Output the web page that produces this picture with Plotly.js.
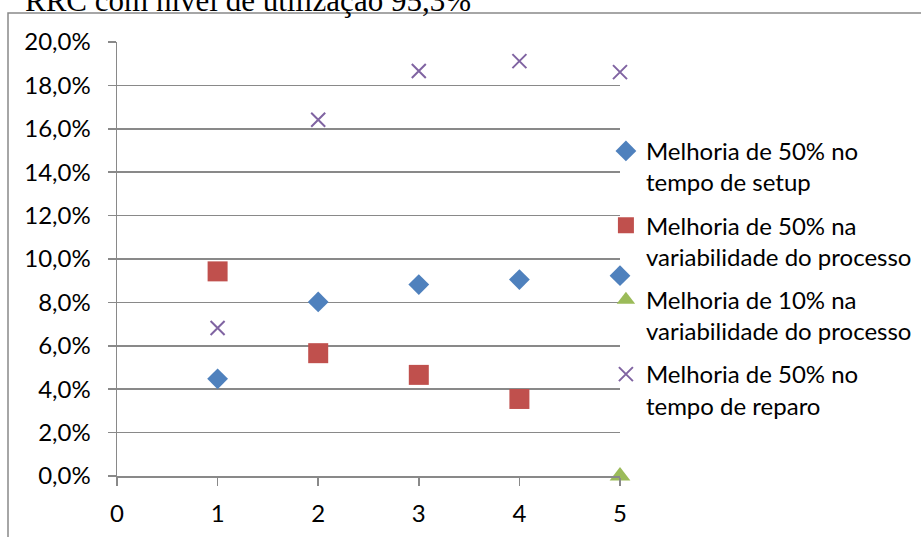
<!DOCTYPE html>
<html>
<head>
<meta charset="utf-8">
<script src="https://cdn.plot.ly/plotly-3.0.1.min.js"></script>
<style>
  html, body { margin: 0; padding: 0; background: #ffffff; }
  #chart { width: 921px; height: 537px; }
</style>
</head>
<body>
<div id="chart"></div>
<script>
// Scenario index on the x axis
const scenarios = [1, 2, 3, 4, 5];

// Gain for each improvement scenario (fractions, shown as %)
const setupGain     = [0.0448, 0.0802, 0.0882, 0.0905, 0.0923];
const variab50Gain  = [0.0943, 0.0566, 0.0466, 0.0355];
const variab10X     = [5];
const variab10Gain  = [0.0];
const repairGain    = [0.0682, 0.1642, 0.1866, 0.1912, 0.1861];

// Series labels
const seriesNames = [
  'Melhoria de 50% no<br>tempo de setup',
  'Melhoria de 50% na<br>variabilidade do processo',
  'Melhoria de 10% na<br>variabilidade do processo',
  'Melhoria de 50% no<br>tempo de reparo'
];

const chartTitle = 'RRC com nível de utilização 95,3%';

const gridGray = '#898989';
const textFont = { family: 'Lato, "Open Sans", sans-serif', size: 24, color: '#000000' };

const traces = [
  {
    x: scenarios, y: setupGain, name: seriesNames[0], legendgroup: 'g1',
    type: 'scatter', mode: 'markers', cliponaxis: false,
    marker: { symbol: 'diamond', size: 16, color: '#4F81BD' }
  },
  {
    x: scenarios.slice(0, variab50Gain.length), y: variab50Gain, name: seriesNames[1], legendgroup: 'g2',
    type: 'scatter', mode: 'markers', cliponaxis: false,
    marker: { symbol: 'square', size: 20, color: '#C0504D' }
  },
  {
    x: variab10X, y: variab10Gain, name: seriesNames[2], legendgroup: 'g3',
    type: 'scatter', mode: 'markers', cliponaxis: false,
    marker: { symbol: 'triangle-up', size: 18, color: '#9BBB59' }
  },
  {
    x: scenarios, y: repairGain, name: seriesNames[3], legendgroup: 'g4',
    type: 'scatter', mode: 'markers', cliponaxis: false,
    marker: { symbol: 'x-thin-open', size: 14, color: '#8064A2',
              line: { color: '#8064A2', width: 2 } }
  }
];

const layout = {
  width: 921, height: 537,
  margin: { l: 117, r: 301, t: 42, b: 61, pad: 0, autoexpand: false },
  paper_bgcolor: '#ffffff', plot_bgcolor: '#ffffff',
  separators: ',.',
  font: textFont,
  showlegend: true,
  title: {
    text: chartTitle,
    font: { family: '"Liberation Serif", "Times New Roman", serif', size: 31, color: '#000000' },
    x: 25 / 921, xref: 'container', xanchor: 'left',
    y: 1.0, yref: 'container', yanchor: 'middle'
  },
  legend: {
    x: 0.972, xanchor: 'left',
    y: 0.80, yanchor: 'top',
    valign: 'top',
    traceorder: 'grouped',
    tracegroupgap: 9,
    font: textFont,
    bgcolor: 'rgba(0,0,0,0)',
    itemwidth: 30
  },
  xaxis: {
    range: [0, 5], dtick: 1, tick0: 0,
    showgrid: false, zeroline: false,
    showline: true, linecolor: gridGray, linewidth: 1.5,
    ticks: 'outside', ticklen: 8, tickcolor: gridGray, tickwidth: 1.5,
    ticklabelstandoff: 8,
    tickfont: textFont, fixedrange: true
  },
  yaxis: {
    range: [0, 0.2], dtick: 0.02, tick0: 0,
    tickformat: '.1%',
    showgrid: true, gridcolor: gridGray, gridwidth: 1.5,
    zeroline: false,
    showline: true, linecolor: gridGray, linewidth: 1.5,
    ticks: 'outside', ticklen: 8, tickcolor: gridGray, tickwidth: 1.5,
    ticklabelstandoff: 12,
    tickfont: textFont, fixedrange: true
  },
  shapes: [
    {
      // outer chart frame (left and top edges visible)
      type: 'rect', xref: 'paper', yref: 'paper',
      x0: (8 - 117) / 503, x1: 1.8,
      y0: -0.3, y1: (476 - 13) / 434,
      line: { color: gridGray, width: 1.5 },
      fillcolor: 'rgba(0,0,0,0)', layer: 'below'
    }
  ]
};

Plotly.newPlot('chart', traces, layout, { displayModeBar: false, staticPlot: true });
</script>
</body>
</html>
